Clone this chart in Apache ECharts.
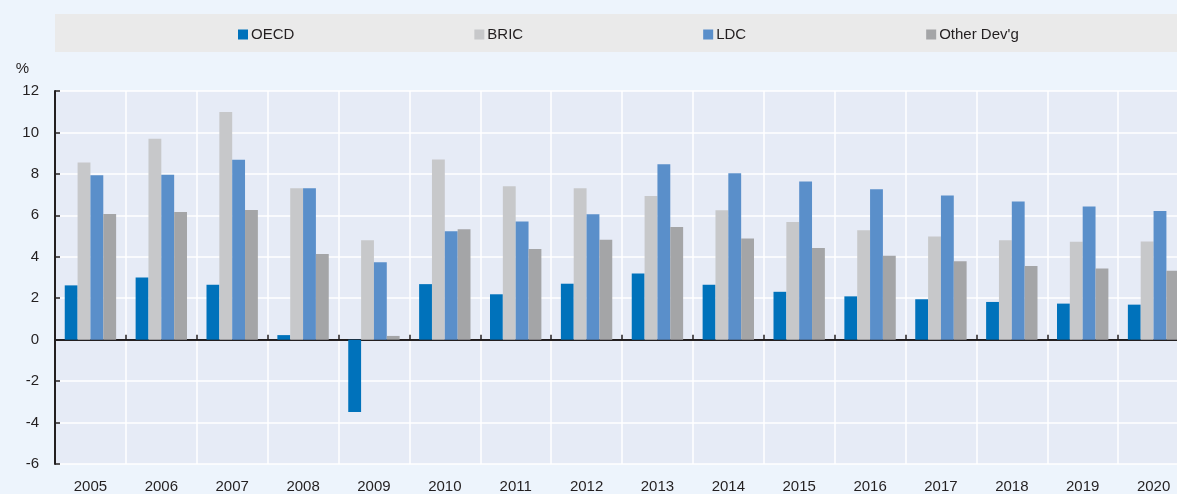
<!DOCTYPE html>
<html>
<head>
<meta charset="utf-8">
<script src="https://cdn.jsdelivr.net/npm/echarts@6/dist/echarts.min.js"></script>
<style>
  html, body { margin: 0; padding: 0; background: #edf4fc; overflow: hidden; }
  /* the reference crops the last category, so the canvas runs past the window */
  #chart { width: 1190px; height: 494px; }
</style>
</head>
<body>
<div id="chart"></div>
<script>
// growth rates, %
var years = ['2005', '2006', '2007', '2008', '2009', '2010', '2011', '2012',
             '2013', '2014', '2015', '2016', '2017', '2018', '2019', '2020'];
var oecd  = [2.62, 3.00, 2.65, 0.22, -3.49, 2.68, 2.19, 2.70, 3.19, 2.65, 2.31, 2.09, 1.95, 1.82, 1.74, 1.69];
var bric  = [8.55, 9.70, 10.99, 7.31, 4.80, 8.70, 7.40, 7.31, 6.93, 6.24, 5.68, 5.28, 4.98, 4.80, 4.72, 4.74];
var ldc   = [7.93, 7.96, 8.68, 7.31, 3.73, 5.23, 5.70, 6.05, 8.46, 8.03, 7.63, 7.26, 6.96, 6.67, 6.43, 6.21];
var other = [6.06, 6.16, 6.26, 4.13, 0.18, 5.33, 4.37, 4.82, 5.44, 4.88, 4.42, 4.05, 3.78, 3.56, 3.43, 3.33];

var font = "'Liberation Sans', Arial, sans-serif";
var ink = '#231f20';

var chart = echarts.init(document.getElementById('chart'));

function bar(name, data, color) {
  return {
    name: name,
    type: 'bar',
    xAxisIndex: 0,
    data: data,
    barGap: 0,
    barCategoryGap: '27.5%',
    itemStyle: { color: color }
  };
}

var option = {
  backgroundColor: '#edf4fc',
  animation: false,
  textStyle: { fontFamily: font },
  graphic: [
    {
      type: 'rect',
      shape: { x: 55, y: 14, width: 1140, height: 38 },
      style: { fill: '#eaeaea' },
      z: -1
    }
  ],
  legend: {
    left: 238,
    top: 27,
    padding: 0,
    itemGap: 180,
    itemWidth: 10,
    itemHeight: 10,
    icon: 'rect',
    textStyle: { fontFamily: font, fontSize: 15, color: ink, padding: [0, 0, 0, -2] },
    data: ['OECD', 'BRIC', 'LDC', "Other Dev'g"]
  },
  grid: {
    left: 55,
    right: 1,
    top: 91,
    bottom: 28,
    show: true,
    backgroundColor: '#e6ebf6',
    borderWidth: 0
  },
  xAxis: [
    {
      type: 'category',
      data: years,
      position: 'bottom',
      axisLine: { show: false, onZero: false },
      axisTick: { show: false },
      axisLabel: { margin: 15, fontFamily: font, fontSize: 15, color: ink },
      splitLine: { show: true, lineStyle: { color: '#ffffff', width: 1.5 } }
    },
    {
      type: 'category',
      data: years,
      position: 'bottom',
      axisLine: { show: true, onZero: true, lineStyle: { color: ink, width: 2 } },
      axisTick: { show: true, inside: true, length: 5, lineStyle: { color: ink, width: 1.5 } },
      axisLabel: { show: false },
      splitLine: { show: false }
    }
  ],
  yAxis: {
    type: 'value',
    min: -6,
    max: 12,
    interval: 2,
    name: '%',
    nameLocation: 'end',
    nameGap: 15,
    nameTextStyle: { fontFamily: font, fontSize: 15, color: ink, align: 'right', padding: [0, 26, 0, 0] },
    axisLine: { show: true, lineStyle: { color: ink, width: 2 } },
    axisTick: { show: true, inside: true, length: 5, lineStyle: { color: ink, width: 1.5 } },
    axisLabel: { margin: 16, fontFamily: font, fontSize: 15, color: ink },
    splitLine: { show: true, lineStyle: { color: '#ffffff', width: 1.5 } }
  },
  series: [
    bar('OECD', oecd, '#0072bb'),
    bar('BRIC', bric, '#c7c8ca'),
    bar('LDC', ldc, '#5a8fca'),
    bar("Other Dev'g", other, '#a4a5a7')
  ]
};

chart.setOption(option);
</script>
</body>
</html>
